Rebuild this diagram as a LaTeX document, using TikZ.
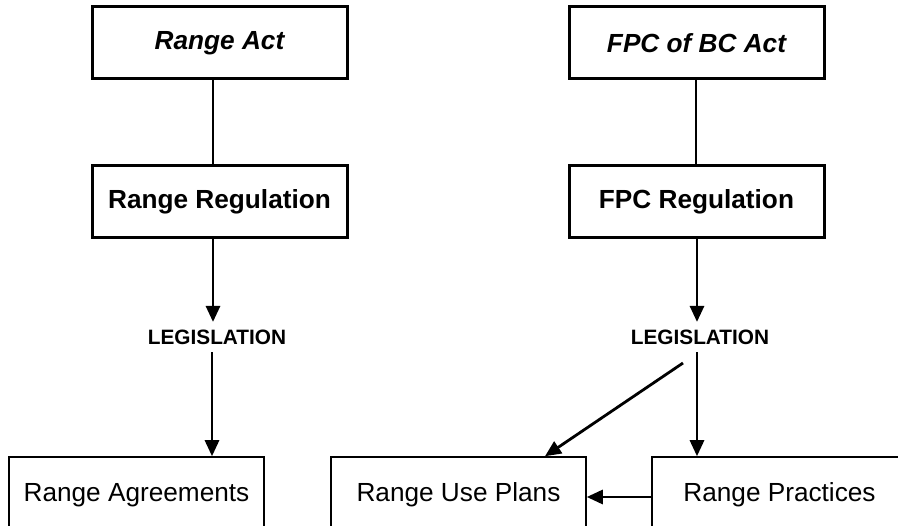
\documentclass[tikz,border=0pt]{standalone}
\usepackage{fontspec}
\setmainfont{Liberation Sans}
\usetikzlibrary{arrows.meta}
\begin{document}
\begin{tikzpicture}[x=1pt,y=-1pt,
  topbox/.style={draw,line width=3pt,minimum width=255pt,minimum height=72pt,inner sep=0pt,font=\fontsize{26.2}{30}\selectfont\bfseries},
  botbox/.style={draw,line width=1.5pt,minimum width=255pt,minimum height=76pt,inner sep=0pt,font=\fontsize{26.2}{30}\selectfont},
  legis/.style={inner sep=7.5pt,font=\fontsize{20.8}{24}\selectfont\bfseries},
  conn/.style={line width=2.8pt},
  arr/.style={line width=2.8pt,-{Triangle[length=16pt,width=14pt]}}]
\useasboundingbox (0,0) rectangle (898,526);
\clip (0,0) rectangle (898,526);
% top boxes
\node[topbox] (ra) at (219.5,43) {\itshape Range Act};
\node[topbox] (rr) at (219.5,202) {Range Regulation};
\node[topbox] (fa) at (696.5,43) {\itshape FPC of BC Act};
\node[topbox] (fr) at (696.5,202) {FPC Regulation};
% legislation labels
\node[legis] (l1) at (217,337) {LEGISLATION};
\node[legis] (l2) at (700,337) {LEGISLATION};
% bottom boxes
\node[botbox] (ag) at (136.5,495) {Range Agreements};
\node[botbox] (up) at (458.5,495) {Range Use Plans};
\node[botbox] (rp) at (779.5,495) {Range Practices};
% helper x positions
\coordinate (lx) at (213,0);
\coordinate (lx2) at (212,0);
\coordinate (rx) at (696,0);
\coordinate (rx2) at (697,0);
\coordinate (dx) at (545,0);
\coordinate (d1) at (683,363);
% connectors
\draw[conn] (ra.south -| lx) -- (rr.north -| lx);
\draw[conn] (fa.south -| rx) -- (fr.north -| rx);
\draw[arr] (rr.south -| lx) -- (l1.north -| lx);
\draw[arr] (fr.south -| rx2) -- (l2.north -| rx2);
\draw[arr] (l1.south -| lx2) -- (ag.north -| lx2);
\draw[arr] (l2.south -| rx2) -- (rp.north -| rx2);
\draw[arr] (d1) -- (up.north -| dx);
\draw[arr] ([yshift=-2pt]rp.west) -- ([yshift=-2pt]up.east);
\end{tikzpicture}
\end{document}
